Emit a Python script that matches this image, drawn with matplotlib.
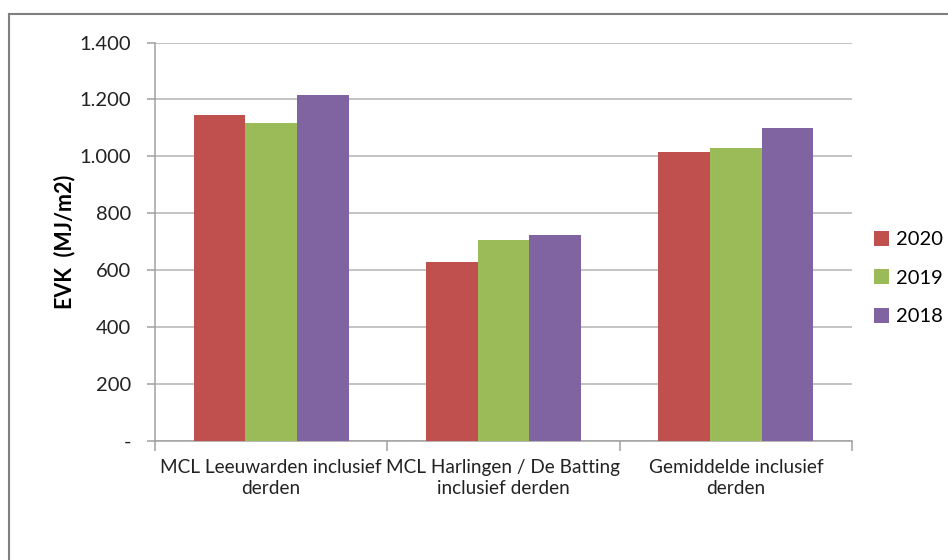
import matplotlib.pyplot as plt
import numpy as np
from matplotlib.lines import Line2D
from matplotlib.ticker import FuncFormatter

categories = ["MCL Leeuwarden inclusief\nderden",
              "MCL Harlingen / De Batting\ninclusief derden",
              "Gemiddelde inclusief\nderden"]
years = ["2020", "2019", "2018"]
evk_2020 = [1145, 630, 1015]
evk_2019 = [1116, 706, 1029]
evk_2018 = [1215, 724, 1100]
colors = ["#C0504D", "#9BBB59", "#8064A2"]

plt.rcParams["font.family"] = ["Lato", "DejaVu Sans"]

fig = plt.figure(figsize=(9.48, 5.6), dpi=100)
ax = fig.add_axes([155 / 948, 1 - 441 / 560, (852 - 155) / 948, (441 - 42.5) / 560])

x = np.arange(len(categories))
w = 1 / 4.5
for i, (vals, lab) in enumerate(zip([evk_2020, evk_2019, evk_2018], years)):
    ax.bar(x + (i - 1) * w, vals, width=w, color=colors[i], label=lab, zorder=3)

ax.set_xlim(-0.5, 2.5)
ax.set_ylim(0, 1400)
ax.set_yticks(np.arange(0, 1401, 200))
ax.yaxis.set_major_formatter(FuncFormatter(
    lambda v, p: "-" if v == 0 else "{:,.0f}".format(v).replace(",", ".")))
ax.grid(axis="y", color="#B3B3B3", linewidth=1.1, zorder=0)

ax.set_xticks(x)
ax.set_xticklabels(categories, fontsize=13.7, color="#222222", linespacing=1.3)
ax.set_xticks([-0.5, 0.5, 1.5, 2.5], minor=True)
ax.tick_params(axis="x", which="major", length=0, pad=13)
ax.tick_params(axis="x", which="minor", length=7, color="#A0A0A0", width=1.1)
ax.tick_params(axis="y", length=6, color="#A0A0A0", width=1.1, labelsize=14.5,
               labelcolor="#222222", pad=11)

for s in ["top", "right"]:
    ax.spines[s].set_visible(False)
for s in ["left", "bottom"]:
    ax.spines[s].set_color("#A0A0A0")
    ax.spines[s].set_linewidth(1.1)

ax.set_ylabel("EVK  (MJ/m2)", fontsize=15.5, fontweight="bold")
ax.yaxis.set_label_coords(-0.114, 0.5)

ax.legend(loc="center left", bbox_to_anchor=(1.005, 0.409), frameon=False,
          fontsize=14.5, handlelength=0.75, handleheight=0.75, handletextpad=0.35,
          labelspacing=1.05)

# chart frame (top and left edges visible)
fig.add_artist(Line2D([8.5 / 948, 8.5 / 948], [0, 1 - 13.5 / 560],
                      transform=fig.transFigure, color="#808080", linewidth=1.5))
fig.add_artist(Line2D([8.5 / 948, 1], [1 - 13.5 / 560, 1 - 13.5 / 560],
                      transform=fig.transFigure, color="#808080", linewidth=1.5))

fig.savefig("out.png", dpi=100)
